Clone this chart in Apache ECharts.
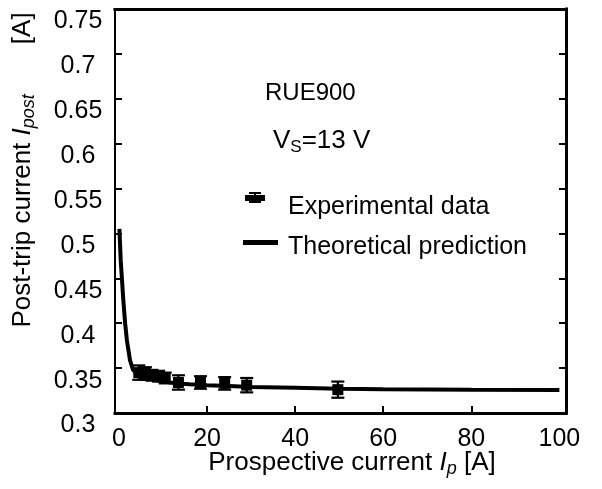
<!DOCTYPE html>
<html>
<head>
<meta charset="utf-8">
<script src="https://cdn.jsdelivr.net/npm/echarts@6/dist/echarts.min.js"></script>
<style>
  html, body { margin: 0; padding: 0; background: #fff; }
  #chart { width: 602px; height: 489px; }
</style>
</head>
<body>
<div id="chart"></div>
<script>
// Measured post-trip current [A] against prospective current [A], with error half-widths
const expCurrent = [4.5, 6, 7.5, 9, 10.5, 13.5, 18.5, 24, 29, 49.7];
const expPost    = [0.345, 0.344, 0.342, 0.341, 0.339, 0.334, 0.334, 0.333, 0.331, 0.326];
const expErr     = [0.008, 0.007, 0.006, 0.006, 0.006, 0.008, 0.007, 0.007, 0.008, 0.009];

// Theoretical prediction curve
const theoCurrent = [0.1, 0.4, 1.0, 1.4, 1.8, 2.5, 3.2, 4, 5, 6, 8, 10, 13, 16, 20, 25, 30, 40, 50, 60, 80, 100];
const theoPost    = [0.505, 0.47, 0.425, 0.4, 0.381, 0.359, 0.348, 0.344, 0.341, 0.339, 0.337, 0.335, 0.333, 0.332, 0.331, 0.330, 0.329, 0.328, 0.327, 0.3265, 0.326, 0.3256];

// Tick positions and their labels
const xTickValues = [0, 20, 40, 60, 80, 100];
const xTickLabels = ['0', '20', '40', '60', '80', '100'];
const xInnerTicks = [20, 40, 60, 80];
const yTickValues = [0.3, 0.35, 0.4, 0.45, 0.5, 0.55, 0.6, 0.65, 0.7, 0.75];
const yTickLabels = ['0.3', '0.35', '0.4', '0.45', '0.5', '0.55', '0.6', '0.65', '0.7', '0.75'];
const yInnerTicks = [0.35, 0.4, 0.45, 0.5, 0.55, 0.6, 0.65, 0.7];

const FONT = '"Liberation Sans", Arial, Helvetica, sans-serif';
const BLACK = '#000';

const chart = echarts.init(document.getElementById('chart'), null, { renderer: 'canvas' });

const expData = expCurrent.map((x, i) => [x, expPost[i], expErr[i]]);
const theoData = theoCurrent.map((x, i) => [x, theoPost[i]]);

function labelFor(values, labels) {
  return v => {
    const k = values.findIndex(t => Math.abs(t - v) < 1e-6);
    return k >= 0 ? labels[k] : '';
  };
}

// error bar with a filled square marker
function renderErrorBar(params, api) {
  const x = api.value(0), y = api.value(1), e = api.value(2);
  const c = api.coord([x, y]);
  const hi = api.coord([x, y + e]);
  const lo = api.coord([x, y - e]);
  const cap = 6.5, half = 5.5;
  const ls = { stroke: BLACK, lineWidth: 2.2 };
  return {
    type: 'group',
    children: [
      { type: 'line', shape: { x1: c[0], y1: hi[1], x2: c[0], y2: lo[1] }, style: ls },
      { type: 'line', shape: { x1: c[0] - cap, y1: hi[1], x2: c[0] + cap, y2: hi[1] }, style: ls },
      { type: 'line', shape: { x1: c[0] - cap, y1: lo[1], x2: c[0] + cap, y2: lo[1] }, style: ls },
      { type: 'rect', shape: { x: c[0] - half, y: c[1] - half, width: 2 * half, height: 2 * half }, style: { fill: BLACK } }
    ]
  };
}

const subRich = {
  n: { fontSize: 26, fontFamily: FONT, fill: BLACK, lineHeight: 30 },
  i: { fontSize: 26, fontFamily: FONT, fontStyle: 'italic', fill: BLACK, lineHeight: 30 },
  s: { fontSize: 18, fontFamily: FONT, fontStyle: 'italic', fill: BLACK, lineHeight: 10, verticalAlign: 'bottom' },
  su: { fontSize: 17, fontFamily: FONT, fill: BLACK, lineHeight: 10, verticalAlign: 'bottom' },
  g: { fontSize: 26, fontFamily: FONT, fill: BLACK, lineHeight: 30, padding: [0, 0, 0, 50] }
};

const option = {
  backgroundColor: '#fff',
  animation: false,
  grid: { left: 115, right: 36, top: 9, bottom: 76, containLabel: false, outerBoundsMode: 'none' },
  legend: {
    orient: 'vertical',
    left: 243,
    top: 192,
    padding: 0,
    itemWidth: 40,
    itemHeight: 30,
    itemGap: 10,
    symbolKeepAspect: true,
    textStyle: { fontSize: 25, fontFamily: FONT, color: BLACK },
    data: [
      { name: 'Experimental data', icon: 'path://M0 0M40 30M6 0h12v2h-12zM11 0h2v11h-2zM2 3h20v6h-20zM6 9h12v2h-12z' },
      { name: 'Theoretical prediction', icon: 'path://M0 0M40 30M0 8h35v5h-35z' }
    ]
  },
  xAxis: [
    {
      type: 'value', position: 'bottom', min: -0.9, max: 101.5,
      axisLine: { show: true, onZero: false, lineStyle: { color: BLACK, width: 3, cap: 'square' } },
      axisTick: { show: true, inside: true, length: 7, customValues: xInnerTicks, lineStyle: { color: BLACK, width: 2 } },
      axisLabel: {
        customValues: xTickValues,
        fontSize: 25, fontFamily: FONT, color: BLACK, margin: 14,
        formatter: labelFor(xTickValues, xTickLabels)
      },
      splitLine: { show: false }
    },
    {
      type: 'value', position: 'top', min: -0.9, max: 101.5,
      axisLine: { show: true, onZero: false, lineStyle: { color: BLACK, width: 3, cap: 'square' } },
      axisTick: { show: false }, axisLabel: { show: false }, splitLine: { show: false }
    }
  ],
  yAxis: [
    {
      type: 'value', position: 'left', min: 0.3, max: 0.75, interval: 0.05,
      axisLine: { show: true, onZero: false, lineStyle: { color: BLACK, width: 2, cap: 'square' } },
      axisTick: { show: true, inside: true, length: 7, customValues: yInnerTicks, lineStyle: { color: BLACK, width: 2 } },
      axisLabel: {
        customValues: yTickValues, fontSize: 25, fontFamily: FONT, color: BLACK,
        align: 'center', verticalAlign: 'top', margin: 37,
        formatter: labelFor(yTickValues, yTickLabels)
      },
      splitLine: { show: false }
    },
    {
      type: 'value', position: 'right', min: 0.3, max: 0.75, interval: 0.05,
      axisLine: { show: true, onZero: false, lineStyle: { color: BLACK, width: 3, cap: 'square' } },
      axisTick: { show: true, inside: true, length: 7, customValues: yInnerTicks, lineStyle: { color: BLACK, width: 2 } },
      axisLabel: { show: false }, splitLine: { show: false }
    }
  ],
  graphic: [
    {
      type: 'text', x: 23, y: 170, rotation: Math.PI / 2, silent: true,
      style: { text: '{n|Post-trip current }{i|I}{s|post}{g|[A]}', rich: subRich, align: 'center', verticalAlign: 'middle' }
    },
    {
      type: 'text', x: 352, y: 463, silent: true,
      style: { text: '{n|Prospective current }{i|I}{s|p}{n| [A]}', rich: subRich, align: 'center', verticalAlign: 'middle' }
    },
    {
      type: 'text', x: 265, y: 93, silent: true,
      style: { text: 'RUE900', fontSize: 24, fontFamily: FONT, fill: BLACK, align: 'left', verticalAlign: 'middle' }
    },
    {
      type: 'text', x: 273, y: 141, silent: true,
      style: { text: '{n|V}{su|S}{n|=13 V}', rich: subRich, align: 'left', verticalAlign: 'middle' }
    }
  ],
  series: [
    {
      name: 'Theoretical prediction',
      type: 'line',
      xAxisIndex: 0, yAxisIndex: 0,
      data: theoData,
      showSymbol: false,
      symbol: 'none',
      smooth: false,
      itemStyle: { color: BLACK },
      lineStyle: { color: BLACK, width: 4 },
      z: 3
    },
    {
      name: 'Experimental data',
      type: 'custom',
      xAxisIndex: 0, yAxisIndex: 0,
      data: expData,
      encode: { x: 0, y: 1 },
      renderItem: renderErrorBar,
      itemStyle: { color: BLACK },
      z: 4
    }
  ]
};

chart.setOption(option);
</script>
</body>
</html>
